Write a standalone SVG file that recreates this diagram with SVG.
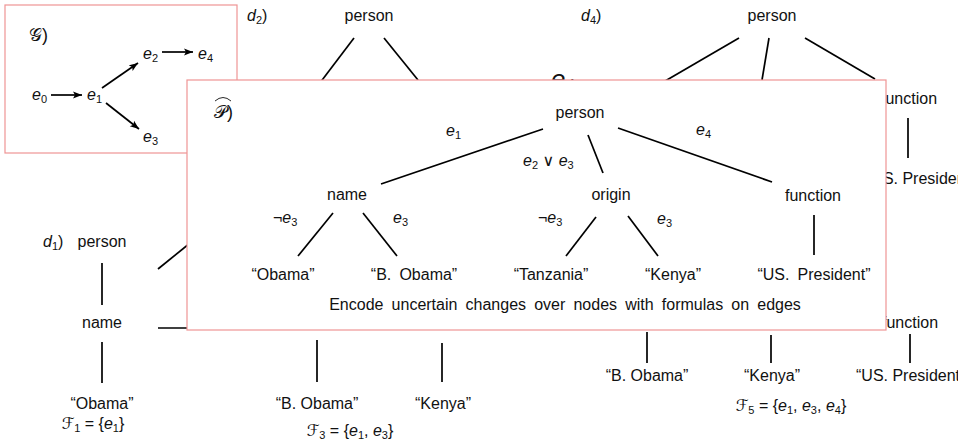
<svg xmlns="http://www.w3.org/2000/svg" width="958" height="440" viewBox="0 0 958 440">
<defs>
<style>
text{font-family:"Liberation Sans",Arial,"DejaVu Sans",sans-serif;font-size:16px;fill:#111}
.m{text-anchor:middle}
.i{font-style:italic}
.s{font-size:11px}
.sc{font-family:"DejaVu Serif","DejaVu Sans",serif;font-style:normal}
.lb{font-size:18px}
.w{word-spacing:3.7px}
.ln{stroke:#000;stroke-width:1.7;fill:none}
.box{fill:#fff;stroke:#ef9494;stroke-width:1.2}
</style>
<marker id="ah" markerUnits="userSpaceOnUse" markerWidth="10" markerHeight="8" refX="9" refY="4" orient="auto">
<path d="M0,0.5 L9,4 L0,7.5 L2,4 z" fill="#000"/>
</marker>
</defs>
<rect width="958" height="440" fill="#fff"/>

<!-- background trees -->
<g id="d2">
<text x="247" y="21"><tspan class="i">d</tspan><tspan class="s" dy="3">2</tspan><tspan dy="-3">)</tspan></text>
<text class="m" x="369" y="21">person</text>
<text class="m" x="317" y="409">“B. Obama”</text>
<text class="m" x="443" y="409">“Kenya”</text>
<text class="m" x="350" y="436"><tspan class="sc">ℱ</tspan><tspan class="s" dy="3">3</tspan><tspan dy="-3"> = {</tspan><tspan class="i">e</tspan><tspan class="s" dy="3">1</tspan><tspan dy="-3">,  </tspan><tspan class="i">e</tspan><tspan class="s" dy="3">3</tspan><tspan dy="-3">}</tspan></text>
</g>
<g id="d4">
<text x="581" y="21"><tspan class="i">d</tspan><tspan class="s" dy="3">4</tspan><tspan dy="-3">)</tspan></text>
<text class="m" x="772" y="21">person</text>
<text x="881" y="104">function</text>
<text x="866" y="184">“US. President”</text>
</g>
<g id="d5">
<text x="882" y="328">function</text>
<text class="m" x="647" y="381">“B. Obama”</text>
<text class="m" x="772" y="381">“Kenya”</text>
<text x="856" y="381">“US. President”</text>
<text class="m" x="791" y="411"><tspan class="sc">ℱ</tspan><tspan class="s" dy="3">5</tspan><tspan dy="-3"> = {</tspan><tspan class="i">e</tspan><tspan class="s" dy="3">1</tspan><tspan dy="-3">,  </tspan><tspan class="i">e</tspan><tspan class="s" dy="3">3</tspan><tspan dy="-3">,  </tspan><tspan class="i">e</tspan><tspan class="s" dy="3">4</tspan><tspan dy="-3">}</tspan></text>
</g>
<g id="d1">
<text x="43" y="247"><tspan class="i">d</tspan><tspan class="s" dy="3">1</tspan><tspan dy="-3">)</tspan></text>
<text class="m" x="102" y="247">person</text>
<text class="m" x="102" y="328">name</text>
<text class="m" x="102" y="409">“Obama”</text>
<text class="m" x="93" y="429"><tspan class="sc">ℱ</tspan><tspan class="s" dy="3">1</tspan><tspan dy="-3"> = {</tspan><tspan class="i">e</tspan><tspan class="s" dy="3">1</tspan><tspan dy="-3">}</tspan></text>
</g>
<g id="e4big">
<text x="551" y="88" style="font-size:26px"><tspan class="i">e</tspan><tspan dy="4" style="font-size:18px">4</tspan></text>
</g>
<g id="bg-connectors">
<line class="ln" x1="354" y1="38" x2="310" y2="96"/>
<line class="ln" x1="384" y1="38" x2="418" y2="80"/>
<line class="ln" x1="739" y1="38" x2="660" y2="84"/>
<line class="ln" x1="769" y1="38" x2="762" y2="80"/>
<line class="ln" x1="805" y1="38" x2="875" y2="79"/>
<line class="ln" x1="908" y1="118" x2="908" y2="158"/>
<line class="ln" x1="102" y1="263" x2="102" y2="305"/>
<line class="ln" x1="102" y1="342" x2="102" y2="383"/>
<line class="ln" x1="158" y1="269" x2="200" y2="235"/>
<line class="ln" x1="158" y1="328" x2="200" y2="328"/>
<line class="ln" x1="317" y1="340" x2="317" y2="382"/>
<line class="ln" x1="442" y1="343" x2="442" y2="382"/>
<line class="ln" x1="647" y1="332" x2="647" y2="363"/>
<line class="ln" x1="771" y1="335" x2="771" y2="363"/>
<line class="ln" x1="910" y1="334" x2="910" y2="363"/>
</g>

<!-- G box -->
<g id="G">
<rect class="box" x="5" y="5" width="232" height="148"/>
<text x="29" y="41" class="lb"><tspan class="sc i">𝒢</tspan>)</text>
<g id="e0"><text x="32" y="100"><tspan class="i">e</tspan><tspan class="s" dy="3">0</tspan></text></g>
<g id="e1"><text x="87" y="100"><tspan class="i">e</tspan><tspan class="s" dy="3">1</tspan></text></g>
<g id="e2"><text x="143" y="59"><tspan class="i">e</tspan><tspan class="s" dy="3">2</tspan></text></g>
<g id="e4"><text x="198" y="59"><tspan class="i">e</tspan><tspan class="s" dy="3">4</tspan></text></g>
<g id="e3"><text x="143" y="142"><tspan class="i">e</tspan><tspan class="s" dy="3">3</tspan></text></g>
<g id="G-connectors">
<line class="ln" x1="51" y1="95" x2="82" y2="95" marker-end="url(#ah)"/>
<line class="ln" x1="102" y1="88" x2="138" y2="63" marker-end="url(#ah)"/>
<line class="ln" x1="162" y1="52" x2="193" y2="52" marker-end="url(#ah)"/>
<line class="ln" x1="106" y1="103" x2="139" y2="129" marker-end="url(#ah)"/>
</g>
</g>

<!-- P box -->
<g id="P">
<rect class="box" x="187" y="80" width="699" height="250"/>
<text x="214" y="118" class="lb"><tspan class="sc i">𝒫</tspan>)</text>
<path d="M215,101 Q223,94 231,101" fill="none" stroke="#111" stroke-width="0.9"/>
<g id="p-person"><text class="m" x="580" y="118">person</text></g>
<g id="p-name"><text class="m" x="347" y="200">name</text></g>
<g id="p-origin"><text class="m" x="611" y="200">origin</text></g>
<g id="p-function"><text class="m" x="813" y="201">function</text></g>
<g id="p-obama"><text class="m w" x="283" y="280">“Obama”</text></g>
<g id="p-bobama"><text class="m w" x="414" y="280">“B. Obama”</text></g>
<g id="p-tanzania"><text class="m w" x="551" y="280">“Tanzania”</text></g>
<g id="p-kenya"><text class="m w" x="673" y="280">“Kenya”</text></g>
<g id="p-uspres"><text class="m w" x="814" y="280">“US. President”</text></g>
<text class="m w" x="565" y="310">Encode uncertain changes over nodes with formulas on edges</text>
<g id="P-connectors">
<line class="ln" x1="543" y1="129" x2="381" y2="184"/>
<line class="ln" x1="588" y1="135" x2="603" y2="173"/>
<line class="ln" x1="618" y1="128" x2="772" y2="182"/>
<line class="ln" x1="333" y1="213" x2="298" y2="256"/>
<line class="ln" x1="363" y1="213" x2="397" y2="256"/>
<line class="ln" x1="596" y1="217" x2="566" y2="256"/>
<line class="ln" x1="628" y1="216" x2="658" y2="256"/>
<line class="ln" x1="814" y1="215" x2="814" y2="255"/>
</g>
<text x="446" y="136"><tspan class="i">e</tspan><tspan class="s" dy="3">1</tspan></text>
<text x="696" y="135"><tspan class="i">e</tspan><tspan class="s" dy="3">4</tspan></text>
<text x="523" y="166"><tspan class="i">e</tspan><tspan class="s" dy="3">2</tspan><tspan dy="-3"> ∨ </tspan><tspan class="i">e</tspan><tspan class="s" dy="3">3</tspan></text>
<text x="273" y="223">¬<tspan class="i">e</tspan><tspan class="s" dy="3">3</tspan></text>
<text x="393" y="223"><tspan class="i">e</tspan><tspan class="s" dy="3">3</tspan></text>
<text x="538" y="223">¬<tspan class="i">e</tspan><tspan class="s" dy="3">3</tspan></text>
<text x="657" y="224"><tspan class="i">e</tspan><tspan class="s" dy="3">3</tspan></text>
</g>
</svg>
